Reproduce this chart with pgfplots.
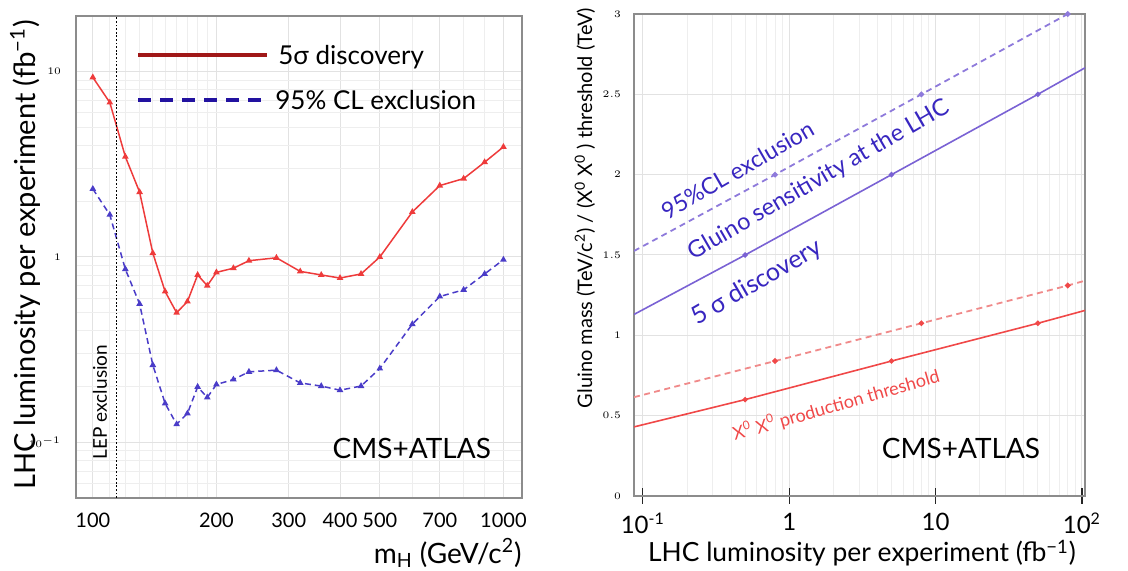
\documentclass[border=0pt]{standalone}
\usepackage{fontspec}
\setmainfont{Lato}
\usepackage{pgfplots}
\pgfplotsset{compat=1.18}
\definecolor{lred}{HTML}{EE3B3B}
\definecolor{lblue}{HTML}{4A3CC8}
\definecolor{legred}{HTML}{A01818}
\definecolor{legblue}{HTML}{2212A0}
\definecolor{rblue}{HTML}{7A62D4}
\definecolor{tblue}{HTML}{3826C0}
\definecolor{rred}{HTML}{F04848}
\definecolor{rredl}{HTML}{F08A8A}
\definecolor{gridc}{HTML}{E2E2E2}
\begin{document}
\begin{tikzpicture}
\path[use as bounding box] (0,0) rectangle (564pt,285.5pt);
% ---------------- left panel ----------------
\begin{axis}[at={(38pt,36.5pt)}, anchor=south west, scale only axis,
  width=223pt, height=241pt,
  xmode=log, ymode=log, xmin=91, xmax=1110, ymin=0.05, ymax=20,
  xtick={100,200,300,400,500,700,1000},
  xticklabels={100,200,300,400,500,700,1000},
  minor xtick={110,120,130,140,150,160,170,180,190,600,800,900},
  ytick={0.1,1,10}, yticklabels={$10^{-1}$,$1$,$10$},
  minor ytick={0.06,0.07,0.08,0.09,0.2,0.3,0.4,0.5,0.6,0.7,0.8,0.9,2,3,4,5,6,7,8,9},
  grid=both, major grid style={gridc, line width=0.5pt},
  minor grid style={gridc!60, line width=0.4pt},
  axis line style={black!45, line width=0.6pt},
  major tick length=0pt, minor tick length=0pt,
  xticklabel style={font=\fontsize{10}{12}\selectfont, yshift=-4pt},
  yticklabel style={font=\fontsize{5}{6}\selectfont, xshift=-4pt},
]
\addplot[lred, line width=0.75pt, mark=triangle*, mark size=1.2pt] coordinates {
(100,9.33) (110,6.82) (120,3.48) (130,2.24) (140,1.05) (150,0.651) (160,0.50)
(170,0.575) (180,0.80) (190,0.70) (200,0.826) (220,0.87) (240,0.955) (280,0.99)
(320,0.836) (360,0.80) (400,0.77) (450,0.81) (500,1.0) (600,1.75) (700,2.43)
(800,2.65) (900,3.25) (1000,3.93)};
\addplot[lblue, line width=0.75pt, dash pattern=on 3pt off 2pt, mark=triangle*, mark size=1.2pt, mark options={solid}] coordinates {
(100,2.33) (110,1.69) (120,0.86) (130,0.558) (140,0.261) (150,0.162) (160,0.125)
(170,0.143) (180,0.199) (190,0.1745) (200,0.205) (220,0.218) (240,0.24) (280,0.245)
(320,0.209) (360,0.201) (400,0.191) (450,0.201) (500,0.25) (600,0.434) (700,0.612)
(800,0.665) (900,0.81) (1000,0.967)};
\draw[black, line width=0.6pt, dash pattern=on 0.9pt off 0.9pt] (axis cs:114.4,0.05) -- (axis cs:114.4,20);
\end{axis}
% legend
\draw[legred, line width=1.6pt] (69pt,258pt) -- (133.5pt,258pt);
\draw[legblue, line width=2pt, dash pattern=on 6.5pt off 4.5pt] (69pt,235.5pt) -- (133.5pt,235.5pt);
\node[anchor=base west, inner sep=0pt, font=\fontsize{13}{15}\selectfont] at (139pt,253pt) {5σ discovery};
\node[anchor=base west, inner sep=0pt, font=\fontsize{13}{15}\selectfont] at (137.5pt,230.5pt) {95\% CL exclusion};
\node[rotate=90, font=\fontsize{9.5}{11}\selectfont] at (50pt,84.5pt) {LEP exclusion};
\node[font=\fontsize{14}{16}\selectfont] at (205.9pt,61.5pt) {CMS+ATLAS};
\node[anchor=east, inner sep=0pt, font=\fontsize{14}{16}\selectfont] at (261pt,9pt) {m\textsubscript{H} (GeV/c\textsuperscript{2})};
\node[rotate=90, font=\fontsize{14.5}{16}\selectfont] at (12.5pt,158pt) {LHC luminosity per experiment (fb\textsuperscript{−1})};
% ---------------- right panel ----------------
\begin{axis}[at={(317pt,37.5pt)}, anchor=south west, scale only axis,
  width=225.5pt, height=241pt,
  xmode=log, xmin=0.087, xmax=105, ymin=0, ymax=3,
  xtick={0.1,1,10,100},
  xticklabels={10\textsuperscript{-1},1,10,10\textsuperscript{2}},
  ytick={0,0.5,1,1.5,2,2.5,3},
  grid=both, major grid style={gridc, line width=0.5pt},
  minor grid style={gridc!60, line width=0.4pt},
  axis line style={black!45, line width=0.9pt},
  xtick pos=bottom,
  xtick align=center, major tick length=8pt, minor tick length=0pt,
  xtick style={black!85, line width=0.6pt}, ytick style={draw=none},
  xticklabel style={font=\fontsize{12}{14}\selectfont, yshift=-1pt},
  yticklabel style={font=\fontsize{5}{6}\selectfont, xshift=-3pt},
]
\addplot[rblue, line width=0.8pt, mark=*, mark size=0.9pt, mark indices={2,3,4}] coordinates {
(0.087,1.13) (0.5,1.5) (5,2.0) (50,2.5) (105,2.665)};
\addplot[rblue!85, line width=0.9pt, dash pattern=on 3pt off 2.2pt, mark=*, mark size=0.9pt, mark options={solid}, mark indices={2,3,4}] coordinates {
(0.087,1.525) (0.8,2.0) (8,2.5) (80,3.0) (105,3.06)};
\addplot[rred, line width=0.8pt, mark=*, mark size=0.9pt, mark indices={2,3,4}] coordinates {
(0.087,0.43) (0.5,0.6) (5,0.84) (50,1.075) (105,1.155)};
\addplot[rredl, line width=0.9pt, dash pattern=on 3pt off 2.2pt, mark=*, mark size=0.9pt, mark options={solid,fill=rred,draw=rred}, mark indices={2,3,4}] coordinates {
(0.087,0.615) (0.8,0.84) (8,1.075) (80,1.31) (105,1.34)};
\end{axis}
\node[rotate=90, font=\fontsize{10}{12}\selectfont] at (292.5pt,181.5pt) {Gluino mass (TeV/c\textsuperscript{2}) / (X\textsuperscript{0} X\textsuperscript{0} ) threshold (TeV)};
\node[font=\fontsize{13.2}{15}\selectfont] at (431pt,9pt) {LHC luminosity per experiment (fb\textsuperscript{−1})};
\node[rotate=30, text=tblue, font=\fontsize{11.5}{13}\selectfont] at (368.75pt,200.5pt) {95\%CL exclusion};
\node[rotate=30, text=tblue, font=\fontsize{11.8}{13}\selectfont] at (409.5pt,195.5pt) {Gluino sensitivity at the LHC};
\node[rotate=30, text=tblue, font=\fontsize{12.5}{14}\selectfont] at (378.5pt,144pt) {5 σ discovery};
\node[rotate=16, text=rred, font=\fontsize{9}{11}\selectfont] at (418pt,83pt) {X\textsuperscript{0} X\textsuperscript{0} production threshold};
\node[font=\fontsize{14}{16}\selectfont] at (480.5pt,61.5pt) {CMS+ATLAS};
\end{tikzpicture}
\end{document}
